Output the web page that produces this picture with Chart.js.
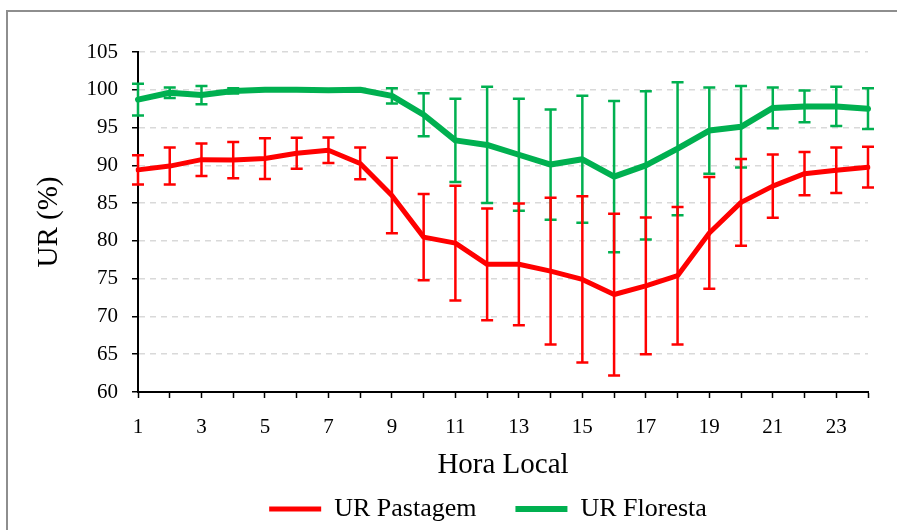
<!DOCTYPE html>
<html>
<head>
<meta charset="utf-8">
<script src="https://cdn.jsdelivr.net/npm/chart.js@4"></script>
<style>
  html, body { margin: 0; padding: 0; background: #fff; }
  #wrap { position: relative; width: 897px; height: 530px; overflow: hidden; }
  #frame { position: absolute; left: 6px; top: 10px; width: 900px; height: 530px;
           border-left: 2px solid #8e8e8e; border-top: 2px solid #8e8e8e; }
  canvas { position: absolute; left: 0; top: 0; }
</style>
</head>
<body>
<div id="wrap">
  <div id="frame"></div>
  <canvas id="chart" width="897" height="530"></canvas>
</div>
<script>
// hours of the day (category axis)
const hours = [1,2,3,4,5,6,7,8,9,10,11,12,13,14,15,16,17,18,19,20,21,22,23,24];

// relative humidity, pasture (mean and +/- error)
const pastagem    = [89.4, 89.9, 90.75, 90.7, 90.9, 91.6, 92.0, 90.25, 86.0, 80.5, 79.7, 76.9,
                     76.9, 76.0, 74.9, 72.9, 74.05, 75.4, 81.05, 85.1, 87.25, 88.9, 89.35, 89.75];
const pastagemErr = [1.95, 2.45, 2.15, 2.4, 2.7, 2.05, 1.7, 2.1, 5.0, 5.7, 7.6, 7.4,
                     8.05, 9.7, 11.0, 10.7, 9.05, 9.1, 7.4, 5.75, 4.2, 2.85, 3.0, 2.7];

// relative humidity, forest (mean and +/- error)
const floresta    = [98.7, 99.6, 99.3, 99.85, 100.0, 100.0, 99.95, 100.0, 99.2, 96.7, 93.3, 92.7,
                     91.4, 90.1, 90.8, 88.5, 90.0, 92.2, 94.6, 95.1, 97.6, 97.8, 97.8, 97.5];
const florestaErr = [2.1, 0.7, 1.2, 0.35, 0.1, 0.1, 0.1, 0.1, 1.0, 2.85, 5.5, 7.7,
                     7.4, 7.3, 8.4, 10.0, 9.8, 8.8, 5.7, 5.4, 2.7, 2.1, 2.6, 2.7];

const RED = '#ff0000';
const GREEN = '#00b050';
const FONT = "'Liberation Serif', 'Times New Roman', serif";

// vertical error bars with caps, drawn right after each line
const errorBars = {
  id: 'errorBars',
  afterDatasetDraw(chart, args) {
    const ds = chart.data.datasets[args.index];
    if (!ds.errors) return;
    const ctx = chart.ctx;
    const ys = chart.scales.y;
    const cap = 6;
    ctx.save();
    ctx.strokeStyle = ds.borderColor;
    ctx.lineWidth = 2.5;
    args.meta.data.forEach((pt, i) => {
      const e = ds.errors[i];
      const v = ds.data[i];
      const top = ys.getPixelForValue(v + e);
      const bot = ys.getPixelForValue(v - e);
      const x = pt.x;
      ctx.beginPath();
      ctx.moveTo(x, top); ctx.lineTo(x, bot);
      ctx.moveTo(x - cap, top); ctx.lineTo(x + cap, top);
      ctx.moveTo(x - cap, bot); ctx.lineTo(x + cap, bot);
      ctx.stroke();
    });
    ctx.restore();
  }
};

// the legend sits a bit right of centre, like the original
const legendPlace = {
  id: 'legendPlace',
  afterLayout(chart) {
    const lg = chart.legend;
    const dx = 44;
    const top = 457;
    lg.left += dx; lg.right += dx;
    lg.width = lg.right - lg.left;
    lg.top = top; lg.bottom = 530;
    lg.height = lg.bottom - lg.top;
  }
};

new Chart(document.getElementById('chart'), {
  type: 'line',
  data: {
    labels: hours,
    datasets: [
      {
        label: 'UR Pastagem',
        data: pastagem,
        errors: pastagemErr,
        borderColor: RED,
        backgroundColor: RED,
        borderWidth: 5,
        borderJoinStyle: 'round',
        borderCapStyle: 'round',
        pointRadius: 0,
        tension: 0
      },
      {
        label: 'UR Floresta',
        data: floresta,
        errors: florestaErr,
        borderColor: GREEN,
        backgroundColor: GREEN,
        borderWidth: 6,
        borderJoinStyle: 'round',
        borderCapStyle: 'round',
        pointRadius: 0,
        tension: 0
      }
    ]
  },
  options: {
    responsive: false,
    animation: false,
    layout: { padding: { top: 52, right: 29, left: 20, bottom: 0 } },
    scales: {
      x: {
        type: 'category',
        offset: false,
        afterFit: (s) => { s.height = 92; },
        border: { color: '#000', width: 2 },
        grid: { drawOnChartArea: false, drawTicks: true, tickLength: 6, tickColor: '#000', tickWidth: 1.5 },
        ticks: {
          autoSkip: false,
          maxRotation: 0,
          padding: 17,
          color: '#000',
          font: { family: FONT, size: 21 },
          callback: (v, i) => (hours[i] % 2 ? String(hours[i]) : '')
        },
        title: {
          display: true,
          text: 'Hora Local',
          color: '#000',
          font: { family: FONT, size: 29 },
          padding: { top: 0, bottom: 1 }
        }
      },
      y: {
        min: 60,
        max: 105,
        afterFit: (s) => { s.width = 118; },
        border: { color: '#000', width: 2, dash: [6, 5] },
        grid: {
          color: (c) => (c.tick && c.tick.value === 60 ? 'rgba(0,0,0,0)' : '#d9d9d9'),
          lineWidth: 1.5,
          tickLength: 6,
          tickColor: '#000',
          tickWidth: 1.5
        },
        ticks: {
          stepSize: 5,
          padding: 14,
          color: '#000',
          font: { family: FONT, size: 21 }
        },
        title: {
          display: true,
          text: 'UR (%)',
          color: '#000',
          font: { family: FONT, size: 29 },
          padding: { top: 12, bottom: 0 }
        }
      }
    },
    plugins: {
      legend: {
        position: 'bottom',
        maxHeight: 46,
        labels: {
          usePointStyle: true,
          pointStyle: 'line',
          pointStyleWidth: 52,
          boxWidth: 52,
          padding: 39,
          color: '#000',
          font: { family: FONT, size: 26, lineHeight: 1 }
        }
      },
      tooltip: { enabled: false }
    }
  },
  plugins: [errorBars, legendPlace]
});
</script>
</body>
</html>
